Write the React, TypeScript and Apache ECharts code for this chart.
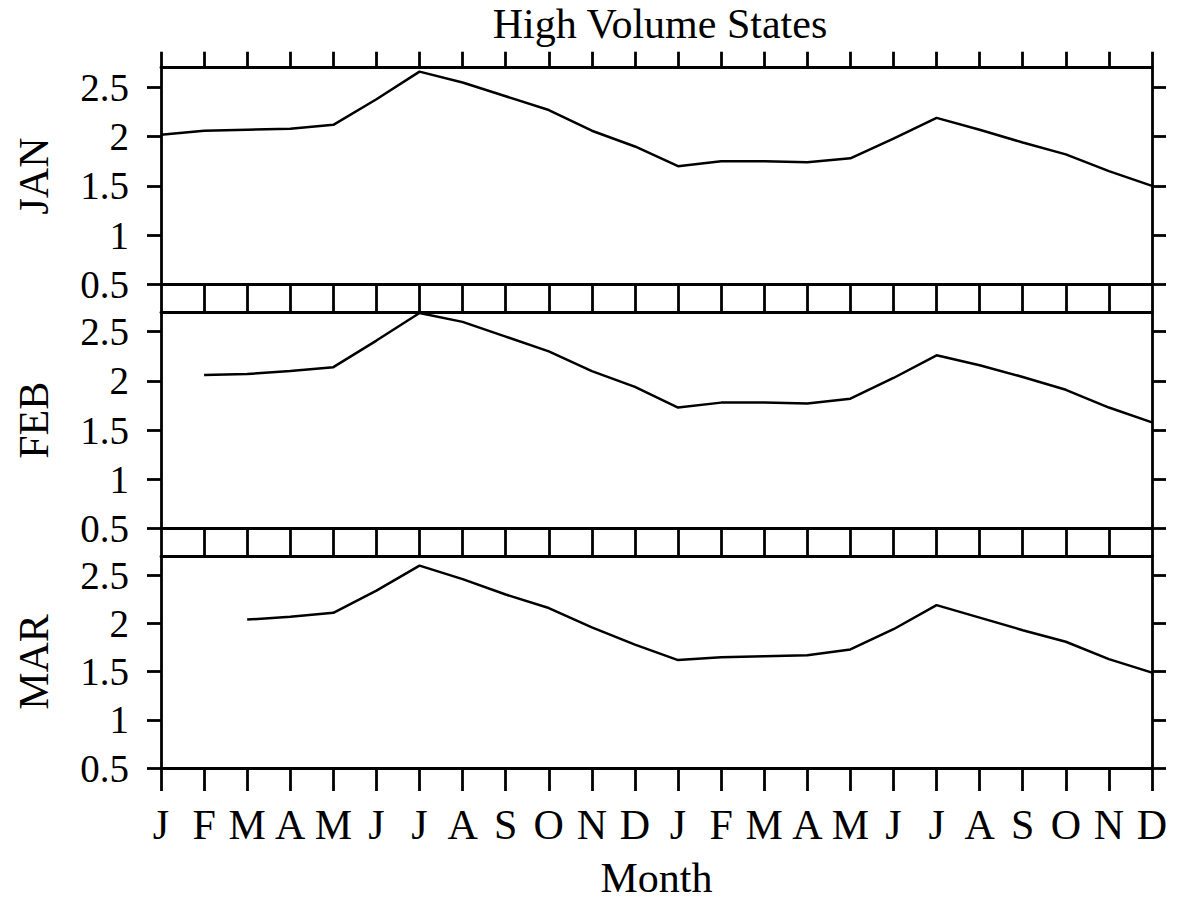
import React, { useEffect, useRef } from "react";
import * as echarts from "echarts";

const months = ["J", "F", "M", "A", "M", "J", "J", "A", "S", "O", "N", "D", "J", "F", "M", "A", "M", "J", "J", "A", "S", "O", "N", "D"];
const panelNames = ["JAN", "FEB", "MAR"];
const yTicks = [0.5, 1, 1.5, 2, 2.5];
const janValues = [2.02, 2.06, 2.07, 2.08, 2.12, 2.38, 2.66, 2.55, 2.41, 2.27, 2.06, 1.9, 1.7, 1.75, 1.75, 1.74, 1.78, 1.98, 2.19, 2.07, 1.94, 1.82, 1.65, 1.5];
const febValues = [null, 2.06, 2.07, 2.1, 2.14, 2.41, 2.69, 2.6, 2.45, 2.3, 2.1, 1.94, 1.73, 1.78, 1.78, 1.77, 1.82, 2.03, 2.26, 2.16, 2.04, 1.91, 1.73, 1.58];
const marValues = [null, null, 2.04, 2.07, 2.11, 2.34, 2.6, 2.46, 2.3, 2.16, 1.96, 1.78, 1.62, 1.65, 1.66, 1.67, 1.73, 1.94, 2.19, 2.06, 1.93, 1.81, 1.63, 1.49];
const seriesValues = [janValues, febValues, marValues];

const FONT = "Liberation Serif";
const BLACK = "#000";

export default function App() {
  const ref = useRef<HTMLDivElement>(null);
  useEffect(() => {
    if (!ref.current) return;
    const chart = echarts.init(ref.current, undefined, { renderer: "svg" });
    const tops = [67.7, 312, 556];
    const heights = [216.6, 216.7, 217.3];
    const grid = tops.map((t, i) => ({ left: 161, width: 991, top: t, height: heights[i] }));
    const axisLine = { show: true, lineStyle: { color: BLACK, width: 2.8 } };
    const tickStyle = { color: BLACK, width: 2.8 };
    const xAxis: any[] = [];
    const yAxis: any[] = [];
    const series: any[] = [];
    panelNames.forEach((name, i) => {
      const isLast = i === panelNames.length - 1;
      xAxis.push({
        gridIndex: i,
        type: "category",
        data: months,
        boundaryGap: false,
        position: "bottom",
        axisLine,
        axisTick: { show: true, interval: 0, inside: false, length: isLast ? 23 : 28, lineStyle: tickStyle },
        axisLabel: { show: isLast, interval: 0, fontSize: 42, color: BLACK, fontFamily: FONT, margin: 36 },
        splitLine: { show: false },
        name: isLast ? "Month" : "",
        nameLocation: "middle",
        nameGap: 89,
        nameTextStyle: { fontSize: 42, color: BLACK, fontFamily: FONT },
      });
      xAxis.push({
        gridIndex: i,
        type: "category",
        data: months,
        boundaryGap: false,
        position: "top",
        axisLine,
        axisTick: { show: i === 0, interval: 0, inside: false, length: 16, lineStyle: tickStyle },
        axisLabel: { show: false },
        splitLine: { show: false },
      });
      yAxis.push({
        gridIndex: i,
        type: "value",
        min: 0.5,
        max: 2.7,
        interval: 0.5,
        position: "left",
        axisLine,
        axisTick: { show: true, length: 14, customValues: yTicks, lineStyle: tickStyle },
        axisLabel: { customValues: yTicks, fontSize: 39, color: BLACK, fontFamily: FONT, margin: 32 },
        splitLine: { show: false },
        name,
        nameLocation: "middle",
        nameRotate: 90,
        nameGap: 106,
        nameTextStyle: { fontSize: 42, color: BLACK, fontFamily: FONT },
      });
      yAxis.push({
        gridIndex: i,
        type: "value",
        min: 0.5,
        max: 2.7,
        interval: 0.5,
        position: "right",
        axisLine,
        axisTick: { show: true, length: 14, customValues: yTicks, lineStyle: tickStyle },
        axisLabel: { show: false },
        splitLine: { show: false },
      });
      series.push({
        type: "line",
        name,
        xAxisIndex: i * 2,
        yAxisIndex: i * 2,
        data: seriesValues[i],
        showSymbol: false,
        symbol: "none",
        lineStyle: { color: BLACK, width: 2.5 },
        silent: true,
      });
    });
    chart.setOption({
      animation: false,
      backgroundColor: "#fff",
      title: {
        text: "High Volume States",
        left: 660,
        top: 3,
        padding: 0,
        textAlign: "center",
        textStyle: { fontSize: 42, fontWeight: "normal", color: BLACK, fontFamily: FONT },
      },
      grid,
      xAxis,
      yAxis,
      series,
    });
    return () => chart.dispose();
  }, []);
  return <div ref={ref} style={{ position: "absolute", left: 0, top: 0, width: 1179, height: 900 }} />;
}
